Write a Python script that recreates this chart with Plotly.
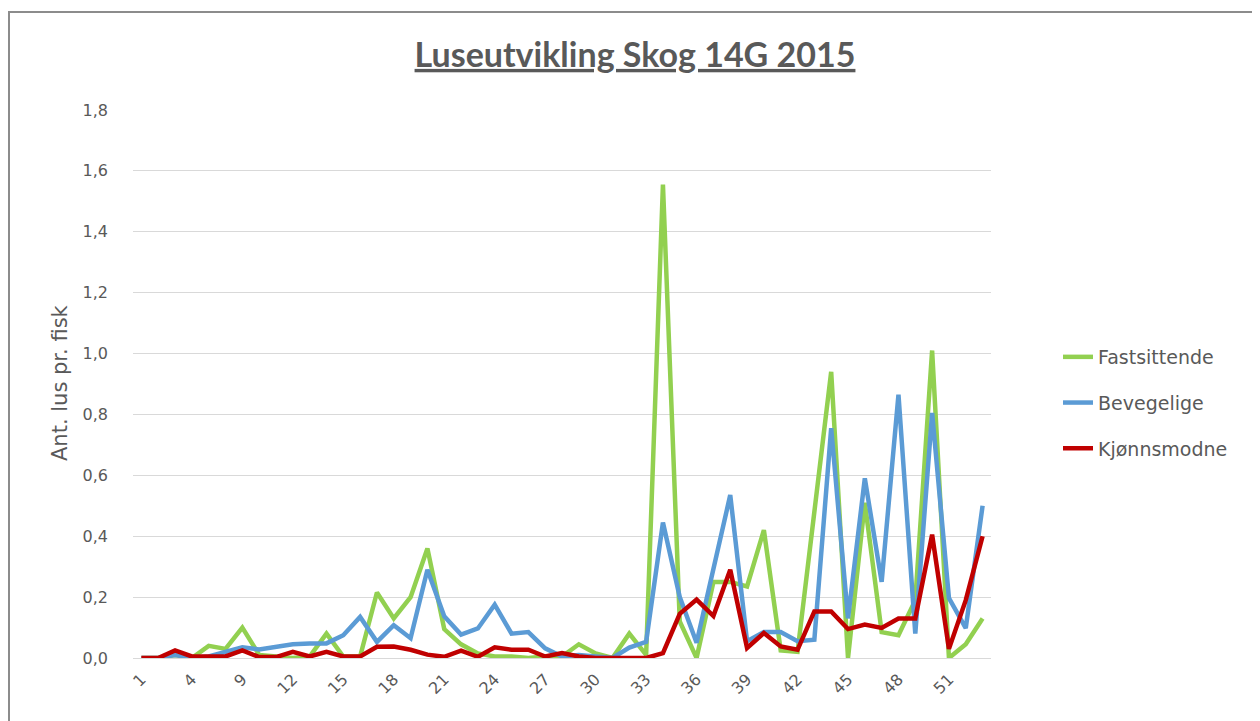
import plotly.graph_objects as go

weeks = ["1", "2", "3", "4", "5", "7"] + [str(w) for w in range(9, 54)]

fastsittende = [0, 0, 0.01, 0, 0.04, 0.03, 0.10, 0.01, 0.005, 0, 0.005, 0.08, 0.005, 0.005,
                0.215, 0.13, 0.20, 0.36, 0.095, 0.045, 0.015, 0.005, 0.005, 0, 0.005, 0.005,
                0.045, 0.015, 0, 0.08, 0.01, 1.555, 0.12, 0, 0.25, 0.25, 0.235, 0.42, 0.025,
                0.02, 0.48, 0.94, 0, 0.51, 0.085, 0.075, 0.19, 1.01, 0, 0.045, 0.13]

bevegelige = [0, 0, 0.01, 0, 0.005, 0.02, 0.035, 0.028, 0.037, 0.045, 0.048, 0.048, 0.075,
              0.135, 0.053, 0.108, 0.065, 0.29, 0.137, 0.077, 0.097, 0.175, 0.08, 0.085,
              0.032, 0.005, 0.01, 0.005, 0, 0.034, 0.053, 0.445, 0.2, 0.05, 0.29, 0.535,
              0.055, 0.085, 0.085, 0.055, 0.06, 0.755, 0.13, 0.59, 0.25, 0.865, 0.08, 0.805,
              0.197, 0.098, 0.50]

kjonnsmodne = [0, 0, 0.025, 0.005, 0.005, 0.005, 0.025, 0.003, 0.003, 0.02, 0.005, 0.02,
               0.005, 0.005, 0.037, 0.038, 0.027, 0.011, 0.004, 0.024, 0.004, 0.035, 0.027,
               0.027, 0.005, 0.016, 0.005, 0, 0, 0, 0, 0.016, 0.145, 0.192, 0.138, 0.29,
               0.033, 0.082, 0.038, 0.027, 0.153, 0.153, 0.095, 0.11, 0.099, 0.13, 0.13,
               0.405, 0.03, 0.19, 0.40]

series = [
    ("Fastsittende", fastsittende, "#92D050"),
    ("Bevegelige", bevegelige, "#5B9BD5"),
    ("Kjønnsmodne", kjonnsmodne, "#C00000"),
]

TFONT = "Lato, 'Open Sans', sans-serif"
FONT = "'DejaVu Sans', sans-serif"
GREY = "#595959"

W, H = 1260, 721
ML, MR, MT, MB = 125, 277, 102, 71
PW = W - ML - MR
PH = H - MT - MB

fig = go.Figure()
for i, (name, vals, col) in enumerate(series):
    fig.add_trace(go.Scatter(
        x=weeks, y=vals, name=name, mode="lines",
        line=dict(color=col, width=4.5), legendgroup=f"g{i}",
    ))

fig.update_layout(
    width=W, height=H,
    margin=dict(l=ML, r=MR, t=MT, b=MB),
    paper_bgcolor="white", plot_bgcolor="white",
    separators=", ",
    font=dict(family=FONT, color=GREY, size=16),
    title=dict(
        text="<b><u>Luseutvikling Skog 14G 2015</u></b>",
        x=(635 - 8) / W, xref="container", xanchor="center",
        y=1 - 47 / H, yref="container", yanchor="middle",
        font=dict(family=TFONT, size=34, color=GREY),
    ),
    showlegend=True,
    legend=dict(
        x=1050 / W, xref="container", xanchor="left",
        y=1 - 330 / H, yref="container", yanchor="top",
        font=dict(family=FONT, size=19, color=GREY),
        tracegroupgap=18, bgcolor="rgba(0,0,0,0)",
    ),
    xaxis=dict(
        type="category",
        range=[-0.5, len(weeks) - 0.5],
        tickvals=weeks[::3], ticktext=weeks[::3],
        tickangle=-45, showgrid=False, zeroline=False,
        showline=False, ticks="", ticklabelstandoff=8,
        tickfont=dict(family=FONT, size=16, color=GREY),
    ),
    yaxis=dict(
        range=[0, 1.8], dtick=0.2, tick0=0, tickformat=".1f",
        showgrid=True, gridcolor="#D9D9D9", gridwidth=1,
        zeroline=True, zerolinecolor="#D9D9D9", zerolinewidth=1,
        showline=False, ticks="", ticklabelstandoff=24,
        tickfont=dict(family=FONT, size=16, color=GREY),
    ),
)

# y-axis title
fig.add_annotation(
    text="Ant. lus pr. fisk", textangle=-90,
    xref="paper", yref="paper",
    x=(60 - 8 - ML) / PW, y=(H - MB - (383 - 8)) / PH,
    xanchor="center", yanchor="middle", showarrow=False,
    font=dict(family=FONT, size=21, color=GREY),
)

# chart-area border
fig.add_shape(type="rect", xref="paper", yref="paper",
              x0=(1 - ML) / PW, x1=(1300 - ML) / PW,
              y0=-0.3, y1=(H - MB - 4) / PH,
              line=dict(color="#8C8C8C", width=2), fillcolor="rgba(0,0,0,0)",
              layer="below")

fig.write_html("out.html")
